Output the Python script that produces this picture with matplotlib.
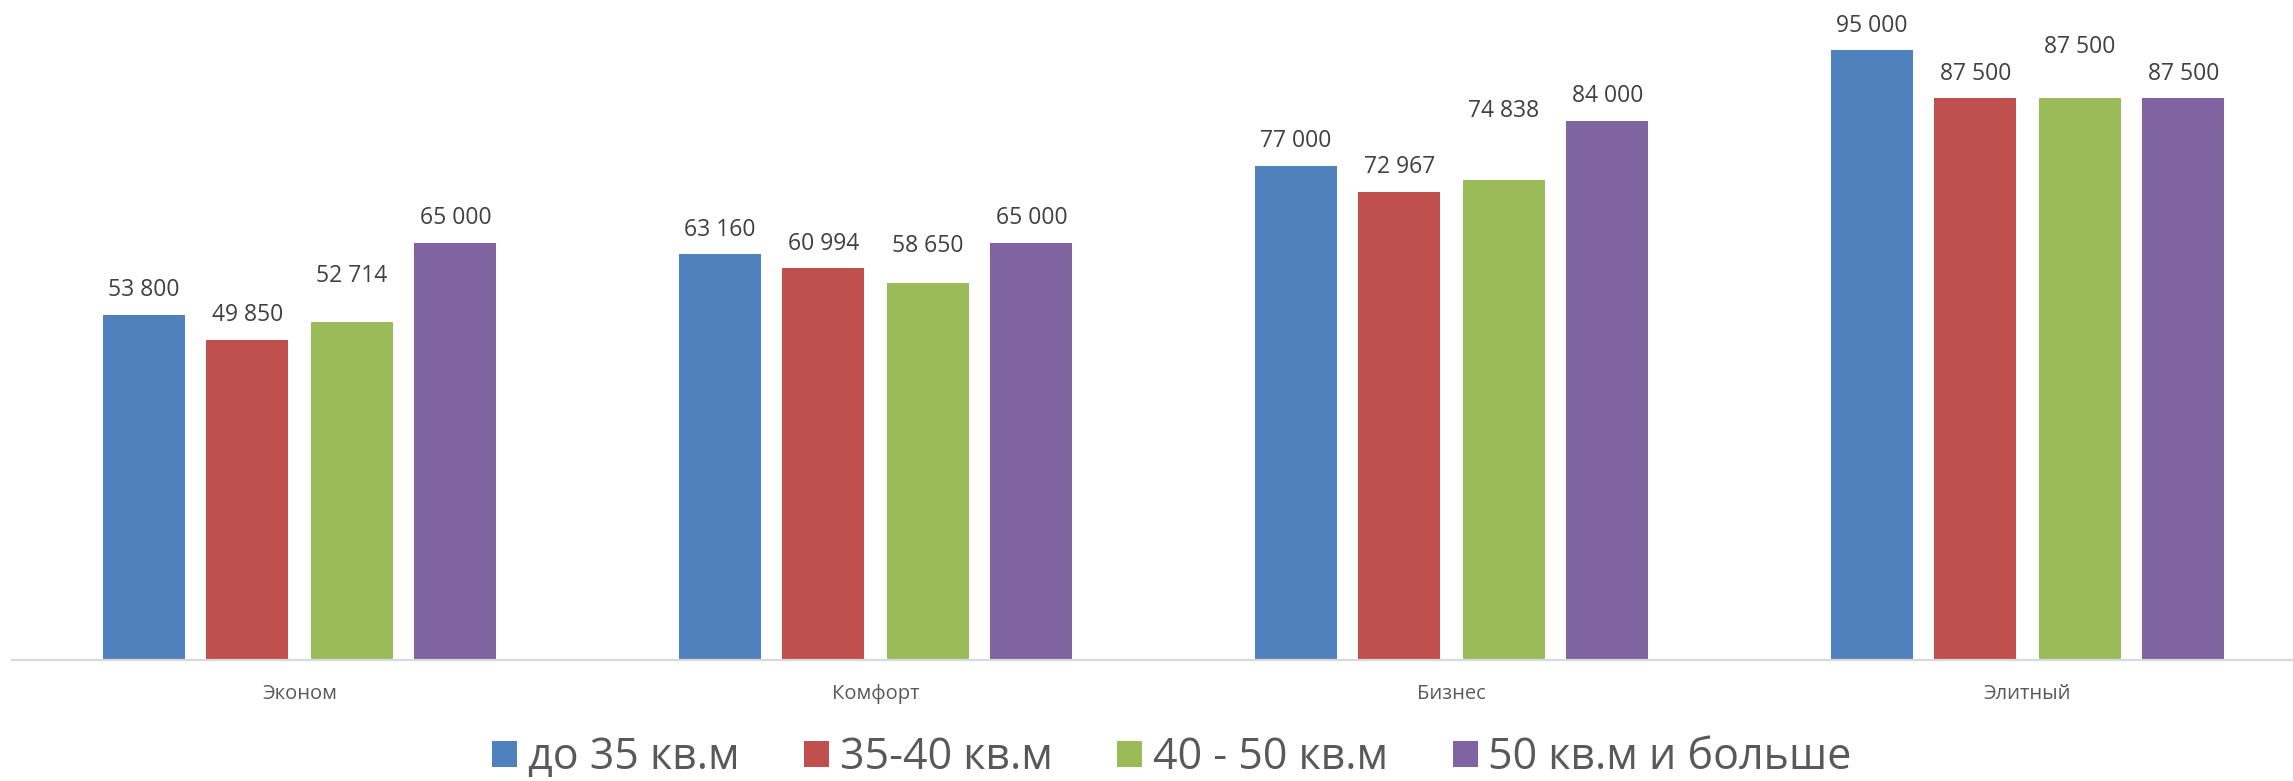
import matplotlib
matplotlib.use("Agg")
import matplotlib.pyplot as plt
import numpy as np

plt.rcParams["font.family"] = ["Open Sans", "DejaVu Sans"]

# Средняя стоимость кв.м по классам жилья
categories = ["Эконом", "Комфорт", "Бизнес", "Элитный"]
series_names = ["до 35 кв.м", "35-40 кв.м", "40 - 50 кв.м", "50 кв.м и больше"]
up_to_35 = [53800, 63160, 77000, 95000]
from_35_to_40 = [49850, 60994, 72967, 87500]
from_40_to_50 = [52714, 58650, 74838, 87500]
from_50 = [65000, 65000, 84000, 87500]

colors = ["#4f81bd", "#c0504d", "#9bbb59", "#8064a2"]
# подписи зелёной серии сдвинуты вручную выше (в пунктах)
label_lift = [
    [0, 0, 0, 0],
    [0, 0, 0, 0],
    [15, 9, 32, 19],
    [0, 0, 0, 0],
]


def fmt(v):
    return f"{v:,}".replace(",", " ")


fig = plt.figure(figsize=(22.93, 7.81), dpi=100)
ax = fig.add_axes([11.5 / 2293, 121 / 781, 2304 / 2293, 660 / 781])

x = np.arange(len(categories))
bar_w = 0.1424
offsets = [-0.2708, -0.0903, 0.0903, 0.2708]
all_series = [up_to_35, from_35_to_40, from_40_to_50, from_50]

for i, (vals, name, col) in enumerate(zip(all_series, series_names, colors)):
    bars = ax.bar(x + offsets[i], vals, width=bar_w, color=col, label=name,
                  edgecolor="none", zorder=2)
    for j, (b, v) in enumerate(zip(bars, vals)):
        ax.annotate(fmt(v), (b.get_x() + b.get_width() / 2, v),
                    xytext=(0, 9 + label_lift[i][j]), textcoords="offset points",
                    ha="center", va="bottom", fontsize=16.5, color="#404040")

ax.set_xlim(-0.5, 3.5)
ax.set_ylim(0, 102800)
ax.set_xticks(x)
ax.set_xticklabels(categories, fontsize=14.5, color="#595959")
ax.tick_params(axis="x", length=0, pad=17)
ax.set_yticks([])
for side in ["left", "right", "top"]:
    ax.spines[side].set_visible(False)
ax.spines["bottom"].set_color("#d9d9d9")
ax.spines["bottom"].set_linewidth(1.6)

fig.legend(loc="center", bbox_to_anchor=(1172 / 2293, 1 - 758 / 781), ncol=4,
           frameon=False, fontsize=31, handlelength=0.58, handleheight=0.58,
           handletextpad=0.25, columnspacing=1.5, labelcolor="#595959",
           borderaxespad=0, borderpad=0)

fig.savefig("out.png", dpi=100)
